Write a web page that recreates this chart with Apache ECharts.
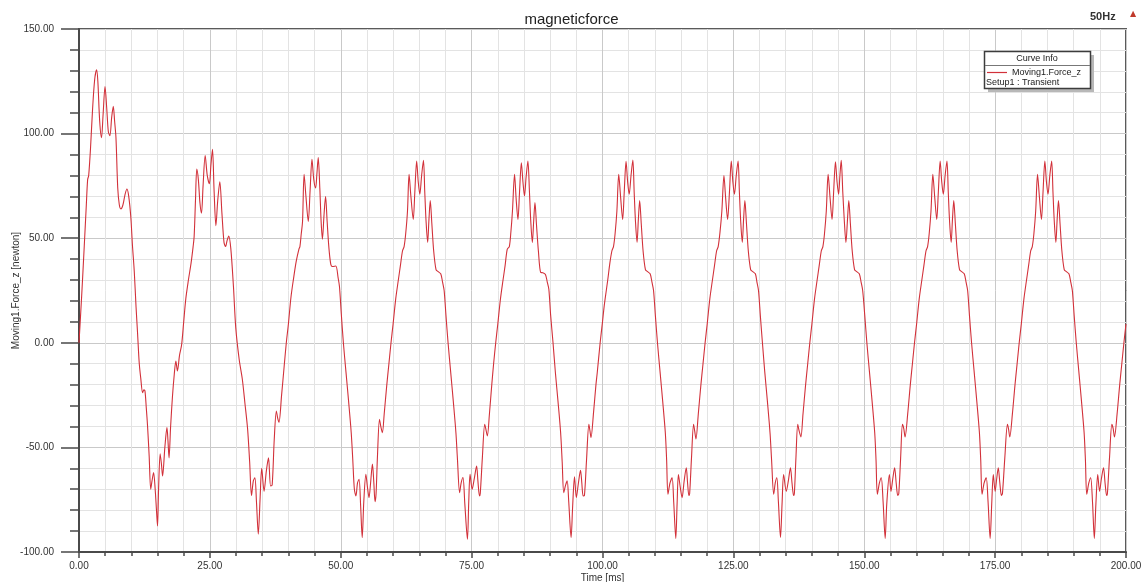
<!DOCTYPE html>
<html>
<head>
<meta charset="utf-8">
<title>magneticforce</title>
<script src="https://cdn.jsdelivr.net/npm/echarts@6/dist/echarts.min.js"></script>
<style>
  html, body { margin: 0; padding: 0; background: #ffffff; }
  #chart { width: 1143px; height: 582px; }
</style>
</head>
<body>
<div id="chart"></div>
<script>
// Moving1.Force_z [newton] against time [ms], one 20 ms electrical period per array.
const cycle01 = [[0,0],[0.5,22],[1.0,46],[1.4,66],[1.65,78],[1.85,80],[2.2,93],[2.6,112],[3.0,126],[3.37,130.5],[3.6,125],[3.95,106],[4.3,98],[4.6,109],[4.97,122.5],[5.3,112],[5.6,101],[5.9,99],[6.25,108],[6.55,113],[6.8,106],[7.06,98],[7.4,74],[7.7,66],[8.0,64],[8.4,66],[8.8,71],[9.16,73.5],[9.5,70],[9.9,60],[10.2,47],[10.56,34],[10.9,17],[11.2,4],[11.5,-9.5],[11.8,-17],[12.15,-23.8],[12.4,-22.5],[12.6,-23],[12.85,-31],[13.1,-40],[13.4,-54],[13.7,-70],[13.95,-66],[14.25,-62],[14.55,-70],[14.8,-80],[15.0,-87.6],[15.2,-70],[15.5,-53],[15.75,-58],[15.97,-63.7],[16.4,-50],[16.8,-40.5],[17.0,-47],[17.2,-55],[17.5,-40],[17.86,-25.4],[18.2,-15],[18.5,-8.7],[18.8,-13.5],[19.2,-6],[19.6,-1]];
const cycle02 = [[20.0,10],[20.4,21],[20.9,30],[21.4,38],[21.8,46],[22.0,51],[22.25,68],[22.5,83],[22.8,78],[23.1,67],[23.4,62],[23.7,75],[24.1,89.5],[24.5,80],[24.9,76],[25.2,85],[25.5,92.5],[25.8,73],[26.15,56],[26.5,68],[26.9,77],[27.3,62],[27.7,48],[28.0,46],[28.3,49],[28.6,51],[29.0,45],[29.5,27],[29.95,7],[30.6,-8],[31.2,-17.4],[31.7,-29],[32.2,-41],[32.6,-57],[32.95,-73],[33.3,-66],[33.6,-64.5],[33.9,-76],[34.25,-91.5],[34.6,-74],[34.9,-60],[35.35,-71],[35.8,-61],[36.2,-55],[36.6,-68.4],[36.9,-68],[37.3,-46],[37.7,-32.6],[37.95,-36],[38.2,-38],[38.7,-25],[39.2,-11],[39.6,0]];
const cycle03 = [[40.0,9],[40.5,22],[41.0,31],[41.5,39],[42.0,44.7],[42.2,46],[42.45,52],[42.7,58],[43.0,80.5],[43.35,70],[43.8,58],[44.15,73],[44.5,87.7],[44.85,78],[45.2,74],[45.45,81],[45.7,88.5],[46.0,74],[46.25,58],[46.5,49.5],[46.8,61],[47.1,70],[47.4,58],[47.75,45],[48.1,37.5],[48.4,36.5],[49.05,36.7],[49.5,31],[49.75,27],[50.1,14],[50.5,0],[51.0,-14],[51.5,-28],[52.0,-43],[52.3,-56],[52.6,-70],[52.9,-73.2],[53.2,-67],[53.5,-65.2],[53.8,-78],[54.1,-93.1],[54.4,-76],[54.8,-62.9],[55.1,-69],[55.4,-74],[55.7,-67],[56.05,-58],[56.3,-66],[56.55,-76],[56.75,-72],[57.0,-55],[57.4,-36.6],[57.65,-40],[57.95,-43],[58.3,-34],[58.8,-20],[59.2,-10],[59.6,0]];
const cycle04 = [[60.0,9],[60.5,21],[61.0,30],[61.4,37],[61.8,44],[62.1,46],[62.4,52],[62.75,63],[63.05,80.5],[63.4,70],[63.85,59],[64.15,72],[64.5,86.9],[64.8,77],[65.1,71],[65.45,80],[65.8,87.2],[66.05,72],[66.3,58],[66.6,48],[66.85,59],[67.1,68],[67.4,57],[67.75,44],[68.2,35],[68.6,34],[69.1,33],[69.45,29],[69.75,25],[70.1,13],[70.5,0],[71.0,-14],[71.5,-28],[72.0,-43],[72.3,-56],[72.7,-71.6],[73.0,-67],[73.35,-64.4],[73.7,-77],[74.2,-93.9],[74.45,-76],[74.7,-62.9],[75.1,-70],[75.5,-65],[75.95,-58.9],[76.2,-66],[76.5,-73.2],[76.65,-72],[77.05,-55],[77.5,-39],[77.7,-41],[78.0,-44.5],[78.4,-34],[78.85,-20],[79.2,-10],[79.6,0]];
const cycle05 = [[80.0,9],[80.5,20.8],[81.0,30],[81.4,37],[81.8,44.7],[82.2,46],[82.5,53],[82.8,63],[83.2,80.5],[83.5,69],[83.85,59],[84.15,72],[84.5,86.1],[84.8,77],[85.1,70.2],[85.4,79],[85.75,86.9],[86.05,72],[86.3,58],[86.6,47.9],[86.85,58],[87.1,67],[87.4,56],[87.75,44],[88.2,33.6],[88.6,33.5],[89.1,32.7],[89.45,29],[89.75,25.6],[90.1,13],[90.55,0],[91.0,-14.2],[91.5,-28],[92.0,-42.9],[92.3,-57],[92.6,-71.6],[92.95,-68],[93.25,-66],[93.55,-76],[94.0,-93.1],[94.3,-78],[94.65,-64],[95.0,-74],[95.4,-67],[95.8,-61],[96.05,-67],[96.3,-73.2],[96.55,-73],[96.95,-56],[97.4,-39],[97.6,-42],[97.8,-45.3],[98.3,-33],[98.75,-20],[99.0,-14.2],[99.55,0]];
const cycle06 = [[100.0,10],[100.25,16],[100.5,21],[101.0,30],[101.4,38],[101.8,44],[102.1,46],[102.4,52],[102.75,63],[103.1,80.5],[103.45,70],[103.85,59],[104.15,72],[104.5,86.7],[104.8,77],[105.1,71],[105.45,80],[105.8,87.3],[106.05,72],[106.3,58],[106.6,48],[106.85,59],[107.1,68],[107.4,57],[107.75,44],[108.2,35],[108.6,34],[109.1,33],[109.45,29],[109.75,25],[110.1,13],[110.5,0],[111.0,-14],[111.5,-28],[112.0,-43],[112.25,-56],[112.5,-72.4],[112.9,-67],[113.3,-64.5],[113.6,-76],[114.0,-93.5],[114.25,-77],[114.5,-63],[114.85,-69],[115.2,-74],[115.6,-66],[116.0,-59.7],[116.25,-67],[116.5,-73],[116.65,-72],[117.0,-55],[117.4,-39],[117.6,-42],[117.85,-46],[118.3,-34],[118.8,-20],[119.2,-10],[119.6,0]];
const cycle07 = [[120.0,9],[120.5,21],[121.0,30],[121.4,37],[121.8,44],[122.1,46],[122.45,53],[122.8,63],[123.2,80],[123.5,70],[123.9,59],[124.25,72],[124.6,86.9],[124.9,77],[125.2,71],[125.55,80],[125.9,86.9],[126.15,72],[126.4,58],[126.7,48],[126.95,59],[127.2,68],[127.5,57],[127.85,44],[128.3,35],[128.7,34],[129.2,33],[129.5,29],[129.8,25],[130.15,13],[130.55,0],[131.0,-14],[131.5,-28],[132.0,-43],[132.3,-56],[132.7,-72.4],[133.0,-67],[133.3,-64.5],[133.6,-76],[134.0,-93],[134.3,-77],[134.6,-63],[135.1,-71],[135.5,-66],[135.9,-59.7],[136.2,-67],[136.5,-73],[136.65,-72],[136.95,-55],[137.3,-39],[137.55,-42],[137.9,-45],[138.3,-34],[138.8,-20],[139.2,-10],[139.6,0]];
const cycle08 = [[140.0,9],[140.5,21],[141.0,30],[141.4,37],[141.8,44],[142.1,46],[142.4,52],[142.75,63],[143.1,80.5],[143.45,70],[143.85,59],[144.15,72],[144.5,86.5],[144.8,77],[145.1,71],[145.35,80],[145.6,87.2],[145.9,72],[146.2,58],[146.5,48],[146.8,59],[147.05,68],[147.35,57],[147.7,44],[148.15,35],[148.55,34],[149.05,33],[149.4,29],[149.7,25],[150.1,13],[150.5,0],[151.0,-14],[151.5,-28],[152.0,-43],[152.25,-56],[152.5,-72.4],[152.9,-67],[153.25,-64.5],[153.6,-76],[154.0,-93.5],[154.3,-77],[154.8,-63],[155.1,-71],[155.45,-65],[155.8,-59.7],[156.1,-67],[156.4,-73],[156.6,-72],[156.95,-55],[157.3,-39],[157.55,-41],[157.8,-45],[158.3,-34],[158.8,-20],[159.2,-10],[159.6,0]];
const cycle09 = [[160.0,9],[160.5,21],[161.0,30],[161.4,37],[161.8,44],[162.1,46],[162.4,52],[162.75,63],[163.1,80.5],[163.45,70],[163.85,59],[164.15,72],[164.5,86.9],[164.8,77],[165.1,71],[165.45,80],[165.8,86.9],[166.05,72],[166.3,58],[166.6,48],[166.85,59],[167.1,68],[167.4,57],[167.75,44],[168.2,35],[168.6,34],[169.1,33],[169.45,29],[169.75,25],[170.1,13],[170.5,0],[171.0,-14],[171.5,-28],[172.0,-43],[172.25,-56],[172.5,-72.4],[172.9,-67],[173.3,-64.5],[173.65,-76],[174.05,-93.5],[174.35,-77],[174.65,-63],[175.0,-71],[175.3,-65],[175.6,-59.7],[175.9,-67],[176.2,-73],[176.4,-72],[176.85,-55],[177.35,-39],[177.55,-41],[177.8,-45],[178.3,-34],[178.8,-20],[179.2,-10],[179.6,0]];
const cycle10 = [[180.0,9],[180.5,21],[181.0,30],[181.4,37],[181.8,44],[182.1,46],[182.4,52],[182.75,63],[183.1,80.5],[183.45,70],[183.85,59],[184.15,72],[184.5,86.9],[184.8,77],[185.1,71],[185.45,80],[185.8,86.9],[186.05,72],[186.3,58],[186.6,48],[186.85,59],[187.1,68],[187.4,57],[187.75,44],[188.2,35],[188.6,34],[189.1,33],[189.45,29],[189.75,25],[190.1,13],[190.5,0],[191.0,-14],[191.5,-28],[192.0,-43],[192.25,-56],[192.5,-72.4],[192.9,-67],[193.25,-64.5],[193.6,-76],[193.95,-93.5],[194.25,-77],[194.6,-63],[194.95,-71],[195.3,-65],[195.7,-59.7],[196.0,-67],[196.3,-73],[196.45,-72],[196.85,-55],[197.3,-39],[197.55,-41],[197.8,-45],[198.3,-34],[198.8,-20],[199.2,-10],[199.6,0],[200.0,9]];

const timeRange = [0, 200];      // ms
const forceRange = [-100, 150];  // newton
const timeStep = 25;
const forceStep = 50;

const chartTitle = 'magneticforce';
const xName = 'Time [ms]';
const yName = 'Moving1.Force_z [newton]';
const curveName = 'Moving1.Force_z';
const setupName = 'Setup1 : Transient';
const freqLabel = '50Hz';

const forceData = [].concat(cycle01, cycle02, cycle03, cycle04, cycle05,
                            cycle06, cycle07, cycle08, cycle09, cycle10);

const FONT = '"Liberation Sans", Arial, sans-serif';
const RED = '#d2313a';

const chart = echarts.init(document.getElementById('chart'), null, { renderer: 'canvas' });

chart.setOption({
  animation: false,
  backgroundColor: '#ffffff',
  textStyle: { fontFamily: FONT },
  title: {
    text: chartTitle,
    left: 'center',
    top: 7,
    textStyle: { fontFamily: FONT, fontSize: 15, fontWeight: 'normal', color: '#222' }
  },
  grid: {
    left: 79, right: 17, top: 29, bottom: 30,
    show: true,
    backgroundColor: '#ffffff',
    borderColor: '#5a5a5a',
    borderWidth: 2,
    outerBoundsMode: 'none'
  },
  xAxis: {
    type: 'value',
    min: timeRange[0], max: timeRange[1], interval: timeStep,
    name: xName,
    nameLocation: 'middle',
    nameGap: 21,
    nameMoveOverlap: false,
    nameTextStyle: { fontFamily: FONT, fontSize: 10, color: '#333' },
    axisLine: { show: true, onZero: false, lineStyle: { color: '#4a4a4a', width: 2 } },
    axisTick: { show: true, length: 6, lineStyle: { color: '#4a4a4a', width: 1.5 } },
    minorTick: { show: true, splitNumber: 5, length: 4, lineStyle: { color: '#4a4a4a', width: 1.5 } },
    axisLabel: {
      margin: 9, fontSize: 10, color: '#333', fontFamily: FONT,
      formatter: v => v.toFixed(2)
    },
    splitLine: { show: true, lineStyle: { color: '#c9c9c9', width: 1 } },
    minorSplitLine: { show: true, lineStyle: { color: '#e3e3e3', width: 1 } }
  },
  yAxis: {
    type: 'value',
    min: forceRange[0], max: forceRange[1], interval: forceStep,
    name: yName,
    nameLocation: 'middle',
    nameGap: 58,
    nameRotate: 90,
    nameMoveOverlap: false,
    nameTextStyle: { fontFamily: FONT, fontSize: 10, color: '#333' },
    axisLine: { show: true, onZero: false, lineStyle: { color: '#4a4a4a', width: 2 } },
    axisTick: { show: true, length: 18, lineStyle: { color: '#4a4a4a', width: 1.5 } },
    minorTick: { show: true, splitNumber: 5, length: 9, lineStyle: { color: '#4a4a4a', width: 1.5 } },
    axisLabel: {
      margin: 25, fontSize: 10, color: '#333', fontFamily: FONT,
      formatter: v => v.toFixed(2)
    },
    splitLine: { show: true, lineStyle: { color: '#c9c9c9', width: 1 } },
    minorSplitLine: { show: true, lineStyle: { color: '#e3e3e3', width: 1 } }
  },
  series: [{
    name: curveName,
    type: 'line',
    data: forceData,
    showSymbol: false,
    symbol: 'none',
    smooth: 0.3,
    lineStyle: { color: RED, width: 1.1 },
    z: 5
  }],
  graphic: [
    // frequency tag, top right
    { type: 'text', left: 1090, top: 11,
      style: { text: freqLabel, fontFamily: FONT, fontSize: 11, fontWeight: 'bold', fill: '#333' } },
    { type: 'text', left: 1130, top: 10,
      style: { text: '▲', fontFamily: '"DejaVu Sans", sans-serif', fontSize: 8, fill: '#c0392b' } },
    // curve info box
    { type: 'rect', z: 20, shape: { x: 988, y: 55, width: 106, height: 37 }, style: { fill: '#b8b8b8' } },
    { type: 'rect', z: 21, shape: { x: 984.5, y: 51.5, width: 106, height: 37 },
      style: { fill: '#ffffff', stroke: '#3c3c3c', lineWidth: 1.5 } },
    { type: 'line', z: 22, shape: { x1: 985, y1: 65.5, x2: 1090, y2: 65.5 },
      style: { stroke: '#777', lineWidth: 1 } },
    { type: 'text', z: 22, x: 1037, y: 59,
      style: { text: 'Curve Info', fontFamily: FONT, fontSize: 9, fill: '#222', align: 'center', verticalAlign: 'middle' } },
    { type: 'line', z: 22, shape: { x1: 987, y1: 72.5, x2: 1007, y2: 72.5 },
      style: { stroke: RED, lineWidth: 1.2 } },
    { type: 'text', z: 22, x: 1012, y: 73,
      style: { text: curveName, fontFamily: FONT, fontSize: 9, fill: '#222', align: 'left', verticalAlign: 'middle' } },
    { type: 'text', z: 22, x: 986, y: 83,
      style: { text: setupName, fontFamily: FONT, fontSize: 9, fill: '#222', align: 'left', verticalAlign: 'middle' } }
  ]
});
</script>
</body>
</html>
